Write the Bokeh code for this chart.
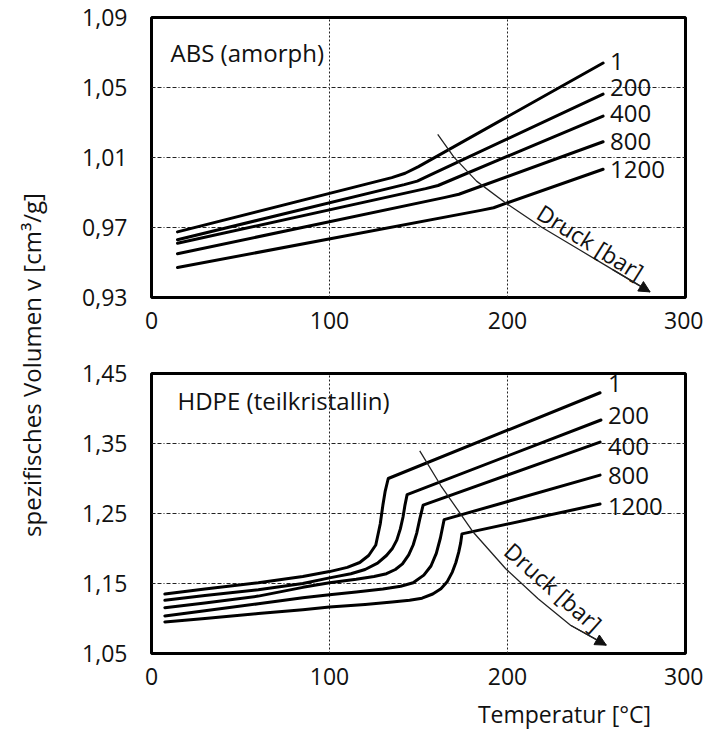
import math
from bokeh.plotting import figure
from bokeh.models import Range1d, FixedTicker, Arrow, NormalHead, CustomJSTickFormatter
from bokeh.layouts import row, column
from bokeh.core.properties import value
from bokeh.embed import file_html
from bokeh.resources import INLINE

FONT = "Open Sans"
TXT = "#111111"

# ---------------- data ----------------
x_ticks = [0, 100, 200, 300]
x_labels = ["0", "100", "200", "300"]

abs_y_ticks = [0.93, 0.97, 1.01, 1.05, 1.09]
abs_y_labels = ["0,93", "0,97", "1,01", "1,05", "1,09"]
hdpe_y_ticks = [1.05, 1.15, 1.25, 1.35, 1.45]
hdpe_y_labels = ["1,05", "1,15", "1,25", "1,35", "1,45"]

pressures = ["1", "200", "400", "800", "1200"]

# ABS (amorph) isobars: temperature [°C], specific volume [cm3/g]
abs_T_1 = [14.6, 135, 142.5, 150, 253.7]
abs_v_1 = [0.9675, 0.9985, 1.0010, 1.0048, 1.0640]
abs_T_200 = [14.6, 142, 149.3, 157, 253.7]
abs_v_200 = [0.9630, 0.9945, 0.9965, 1.0002, 1.0462]
abs_T_400 = [14.6, 154, 161, 168, 253.7]
abs_v_400 = [0.9610, 0.9922, 0.9940, 0.9970, 1.0337]
abs_T_800 = [14.6, 165, 172.7, 180, 253.7]
abs_v_800 = [0.9550, 0.9872, 0.9890, 0.9917, 1.0190]
abs_T_1200 = [14.6, 185, 192.2, 199, 253.7]
abs_v_1200 = [0.9471, 0.9798, 0.9813, 0.9838, 1.0033]

abs_label_T = [257.6, 257.6, 257.6, 257.6, 257.6]
abs_label_v = [1.0650, 1.0502, 1.0350, 1.0193, 1.0031]

abs_arrow_T = [160.8, 169.9, 182.6, 199.0, 219.0, 240.9, 259.1, 280.1]
abs_arrow_v = [1.0232, 1.0102, 0.9965, 0.9840, 0.9703, 0.9570, 0.9459, 0.9332]

# HDPE (teilkristallin) isobars
hdpe_T_1 = [7.5, 30, 60, 85, 100, 110, 117, 122, 126, 128.5, 130, 131.3, 133, 252]
hdpe_v_1 = [1.135, 1.142, 1.151, 1.160, 1.167, 1.173, 1.180, 1.190, 1.205, 1.235, 1.262, 1.282, 1.300, 1.4225]
hdpe_T_200 = [7.5, 30, 60, 85, 100, 112, 120, 127, 132, 135.2, 137.8, 139.8, 141.3, 142.4, 143.6, 252.5]
hdpe_v_200 = [1.126, 1.133, 1.141, 1.150, 1.158, 1.164, 1.170, 1.179, 1.190, 1.1995, 1.212, 1.228, 1.245, 1.262, 1.277, 1.3836]
hdpe_T_400 = [7.5, 30, 60, 85, 100, 115, 125, 132, 137, 141, 144.5, 147, 149, 150.7, 152.6, 252]
hdpe_v_400 = [1.1155, 1.122, 1.132, 1.1445, 1.151, 1.156, 1.160, 1.164, 1.170, 1.178, 1.191, 1.205, 1.222, 1.242, 1.262, 1.352]
hdpe_T_800 = [7.5, 30, 60, 85, 100, 115, 130, 140, 147, 153, 157, 160, 162.3, 163.5, 164.4, 252]
hdpe_v_800 = [1.1037, 1.111, 1.121, 1.1295, 1.134, 1.138, 1.142, 1.146, 1.151, 1.162, 1.175, 1.193, 1.215, 1.230, 1.2412, 1.3048]
hdpe_T_1200 = [7.5, 30, 60, 85, 100, 120, 135.2, 145, 152, 158, 162.6, 166, 169, 171, 172.6, 173.7, 174.4, 252]
hdpe_v_1200 = [1.0951, 1.100, 1.107, 1.1125, 1.1165, 1.120, 1.1235, 1.126, 1.129, 1.135, 1.1426, 1.152, 1.1663, 1.180, 1.1948, 1.208, 1.2209, 1.2635]

hdpe_label_T = [256.4, 256.4, 256.4, 256.4, 256.4]
hdpe_label_v = [1.4358, 1.3905, 1.3460, 1.3038, 1.2600]

hdpe_arrow_T = [150.7, 162.6, 180.8, 199.0, 217.2, 235.4, 255.5]
hdpe_arrow_v = [1.3394, 1.2896, 1.2232, 1.1710, 1.1283, 1.0904, 1.0619]

abs_title = "ABS (amorph)"
hdpe_title = "HDPE (teilkristallin)"
druck_text = "Druck [bar]"
x_title = "Temperatur [°C]"
x_title_T = 232
y_title = "spezifisches Volumen v [cm³/g]"

abs_curves = [(abs_T_1, abs_v_1), (abs_T_200, abs_v_200), (abs_T_400, abs_v_400),
              (abs_T_800, abs_v_800), (abs_T_1200, abs_v_1200)]
hdpe_curves = [(hdpe_T_1, hdpe_v_1), (hdpe_T_200, hdpe_v_200), (hdpe_T_400, hdpe_v_400),
               (hdpe_T_800, hdpe_v_800), (hdpe_T_1200, hdpe_v_1200)]

# ---------------- layout sizes ----------------
LAB_W = 50
FRAME_W = 534
FRAME_H = 280
LEFT = 101
RIGHT = 18
P1_TOP, P1_BOTTOM = 17, 48
P2_TOP, P2_BOTTOM = 28, 44
XLAB_H = 32


def tick_formatter(tvals, tlabels):
    return CustomJSTickFormatter(
        args=dict(tvals=tvals, tlabels=tlabels),
        code="""
        for (let i = 0; i < tvals.length; i++) {
            if (Math.abs(tvals[i] - tick) < 1e-9) { return tlabels[i]; }
        }
        return '';
        """)


def make_panel(y_range, y_ticks, y_labels, top, bottom):
    p = figure(width=LEFT + FRAME_W + RIGHT, height=top + FRAME_H + bottom,
               x_range=Range1d(0, 300), y_range=Range1d(*y_range),
               toolbar_location=None, output_backend="svg",
               min_border_left=LEFT, min_border_right=RIGHT,
               min_border_top=top, min_border_bottom=bottom)
    p.outline_line_color = "black"
    p.outline_line_width = 3
    p.background_fill_color = "white"
    p.border_fill_color = "white"

    p.xaxis.ticker = FixedTicker(ticks=x_ticks)
    p.xaxis.formatter = tick_formatter(x_ticks, x_labels)
    p.yaxis.ticker = FixedTicker(ticks=y_ticks)
    p.yaxis.formatter = tick_formatter(y_ticks, y_labels)
    for ax in (p.xaxis, p.yaxis):
        ax.axis_line_color = None
        ax.major_tick_line_color = None
        ax.minor_tick_line_color = None
        ax.major_tick_in = 0
        ax.major_tick_out = 0
        ax.major_label_text_font = FONT
        ax.major_label_text_font_size = "23px"
        ax.major_label_text_color = TXT
    p.xaxis.major_label_standoff = 14
    p.yaxis.major_label_standoff = 24

    p.xgrid.grid_line_color = "#222222"
    p.xgrid.grid_line_width = 1
    p.xgrid.grid_line_dash = "2 2"
    p.ygrid.grid_line_color = "#222222"
    p.ygrid.grid_line_width = 1
    p.ygrid.grid_line_dash = "4 2 4 2 1 2"
    return p


def draw(p, curves, label_T, label_v, arrow_T, arrow_v, title, title_x, title_y,
         druck_x, druck_y, druck_angle):
    for T, v in curves:
        p.line(T, v, line_color="black", line_width=3, line_join="round", line_cap="round")
    p.text(x=label_T, y=label_v, text=pressures, text_font=value(FONT),
           text_font_size="24px", text_color=TXT, text_align="left", text_baseline="middle")
    p.line(arrow_T, arrow_v, line_color="#222222", line_width=1.3)
    p.add_layout(Arrow(end=NormalHead(size=11, fill_color="#111111", line_color="#111111"),
                       line_color="#222222", line_width=1.3,
                       x_start=arrow_T[-2], y_start=arrow_v[-2],
                       x_end=arrow_T[-1], y_end=arrow_v[-1]))
    p.text(x=[title_x], y=[title_y], text=[title], text_font=value(FONT),
           text_font_size="24px", text_color=TXT, text_align="left", text_baseline="middle")
    p.text(x=[druck_x], y=[druck_y], text=[druck_text], text_font=value(FONT),
           text_font_size="23px", text_color=TXT, text_align="center", text_baseline="middle",
           angle=druck_angle)


p1 = make_panel((0.93, 1.09), abs_y_ticks, abs_y_labels, top=P1_TOP, bottom=P1_BOTTOM)
draw(p1, abs_curves, abs_label_T, abs_label_v, abs_arrow_T, abs_arrow_v,
     abs_title, 10.7, 1.0700, 246.7, 0.9617, -math.radians(32))

p2 = make_panel((1.05, 1.45), hdpe_y_ticks, hdpe_y_labels, top=P2_TOP, bottom=P2_BOTTOM)
draw(p2, hdpe_curves, hdpe_label_T, hdpe_label_v, hdpe_arrow_T, hdpe_arrow_v,
     hdpe_title, 14.6, 1.4109, 225.8, 1.145, -math.radians(41.5))

# x-axis title strip (shares the temperature scale of the panels)
xlab = figure(width=LEFT + FRAME_W + RIGHT, height=XLAB_H,
              x_range=Range1d(0, 300), y_range=Range1d(0, 1),
              x_axis_type=None, y_axis_type=None,
              toolbar_location=None, output_backend="svg",
              min_border_left=LEFT, min_border_right=RIGHT,
              min_border_top=0, min_border_bottom=0)
xlab.outline_line_color = None
xlab.grid.visible = False
xlab.text(x=[x_title_T], y=[0.5], text=[x_title], text_font=value(FONT),
          text_font_size="23px", text_color=TXT, text_align="center", text_baseline="middle")

# y-axis title in its own narrow panel
lab = figure(width=LAB_W,
             height=(P1_TOP + FRAME_H + P1_BOTTOM) + (P2_TOP + FRAME_H + P2_BOTTOM) + XLAB_H,
             x_range=Range1d(0, 1), y_range=Range1d(0, 1),
             x_axis_type=None, y_axis_type=None,
             toolbar_location=None, output_backend="svg",
             min_border_left=0, min_border_right=0, min_border_top=0, min_border_bottom=0)
lab.outline_line_color = None
lab.grid.visible = False
lab.text(x=[0.62], y=[0.5], text=[y_title], angle=math.pi / 2,
         text_font=value(FONT), text_font_size="24px", text_color=TXT,
         text_align="center", text_baseline="middle")

layout = row(lab, column(p1, p2, xlab))

open("out.html", "w").write(file_html(layout, INLINE))
